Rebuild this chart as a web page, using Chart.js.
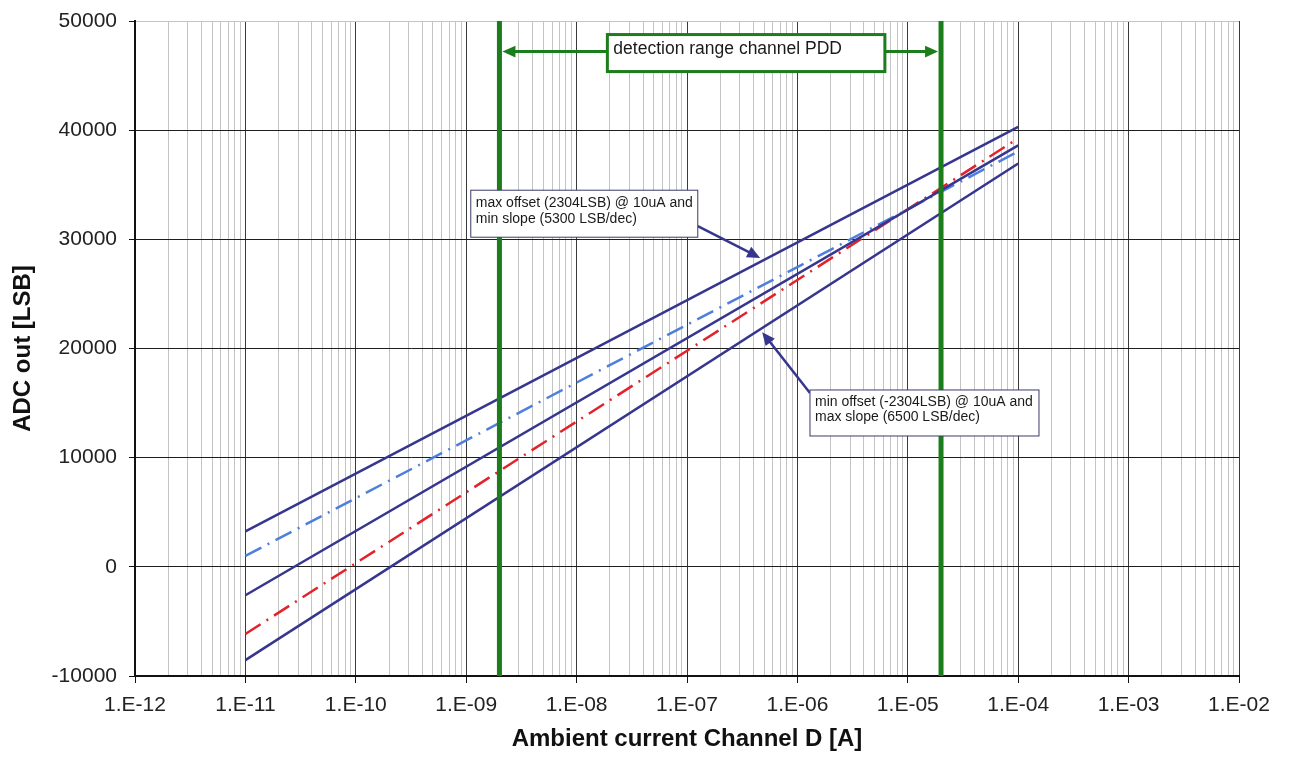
<!DOCTYPE html>
<html>
<head>
<meta charset="utf-8">
<script src="https://cdn.jsdelivr.net/npm/chart.js@4.4.1/dist/chart.umd.min.js"></script>
<style>
    html, body { margin: 0; padding: 0; background: #fff; }
    #wrap { width: 1289px; height: 758px; }
</style>
</head>
<body>
<div id="wrap"><canvas id="adc-chart"></canvas></div>
<script>
// ============================================
// DATA
// ============================================
// current range of the characteristic lines [A]
const currentRange = [1e-11, 1e-4];
// detection range channel PDD [A]
const detectionLimits = [2e-9, 2e-5];

// ADC output [LSB] at both ends of the current range
const maxOffsetMinSlope = [3250, 40300];
const nominalLine = [-2600, 38600];
const minOffsetMaxSlope = [-8550, 36950];
const nominalMaxSlope = [-6150, 39250];
const nominalMinSlope = [1000, 38050];

// axes
const xDecades = [1e-12, 1e-11, 1e-10, 1e-9, 1e-8, 1e-7, 1e-6, 1e-5, 1e-4, 1e-3, 1e-2];
const xTickLabels = ['1.E-12', '1.E-11', '1.E-10', '1.E-09', '1.E-08', '1.E-07',
    '1.E-06', '1.E-05', '1.E-04', '1.E-03', '1.E-02'];
const yTicks = [-10000, 0, 10000, 20000, 30000, 40000, 50000];

const colors = {
    navy: '#36368f',
    red: '#e3222a',
    blue: '#4f7fdc',
    green: '#1b7d1b',
    majorGrid: '#3a3a3a',
    minorGrid: '#c4c4c4',
};
const FONT = "'Liberation Sans', Arial, sans-serif";

function toPoints(xs, ys) {
    return xs.map((x, i) => ({ x: x, y: ys[i] }));
}

function isDecade(value) {
    return xDecades.indexOf(value) >= 0;
}

// ticks at 1..9 of every decade, for the log grid
function logGridTicks() {
    const ticks = [];
    xDecades.forEach((d, i) => {
        if (i === xDecades.length - 1) {
            ticks.push({ value: d });
            return;
        }
        for (let m = 1; m <= 9; m++) {
            ticks.push({ value: m === 1 ? d : Number((m * d).toPrecision(3)) });
        }
    });
    return ticks;
}

// ============================================
// CALLOUTS (text boxes and arrows)
// ============================================
function drawArrow(ctx, x1, y1, x2, y2, color, width, head) {
    const ang = Math.atan2(y2 - y1, x2 - x1);
    ctx.save();
    ctx.strokeStyle = color;
    ctx.fillStyle = color;
    ctx.lineWidth = width;
    ctx.beginPath();
    ctx.moveTo(x1, y1);
    ctx.lineTo(x2 - Math.cos(ang) * head * 0.8, y2 - Math.sin(ang) * head * 0.8);
    ctx.stroke();
    ctx.beginPath();
    ctx.moveTo(x2, y2);
    ctx.lineTo(x2 - head * Math.cos(ang) + head * 0.45 * Math.sin(ang),
        y2 - head * Math.sin(ang) - head * 0.45 * Math.cos(ang));
    ctx.lineTo(x2 - head * Math.cos(ang) - head * 0.45 * Math.sin(ang),
        y2 - head * Math.sin(ang) + head * 0.45 * Math.cos(ang));
    ctx.closePath();
    ctx.fill();
    ctx.restore();
}

function drawTextBox(ctx, left, top, w, h, lines, opts) {
    ctx.save();
    ctx.fillStyle = '#fff';
    ctx.fillRect(left, top, w, h);
    ctx.strokeStyle = opts.border;
    ctx.lineWidth = opts.borderWidth;
    ctx.strokeRect(left, top, w, h);
    ctx.fillStyle = '#1a1a1a';
    ctx.font = opts.font;
    ctx.textBaseline = 'middle';
    ctx.textAlign = 'left';
    lines.forEach((t, i) => {
        ctx.fillText(t, left + opts.padX, top + opts.firstLine + i * opts.lineGap);
    });
    ctx.restore();
}

const calloutPlugin = {
    id: 'callouts',
    afterDatasetsDraw(chart) {
        const ctx = chart.ctx;
        const x = chart.scales.x;
        const y = chart.scales.y;

        // detection range arrow + label
        const ay = y.getPixelForValue(47200);
        const gx1 = x.getPixelForValue(detectionLimits[0]);
        const gx2 = x.getPixelForValue(detectionLimits[1]);
        const mid = (gx1 + gx2) / 2;
        drawArrow(ctx, mid, ay, gx1 + 3, ay, colors.green, 3, 13);
        drawArrow(ctx, mid, ay, gx2 - 3, ay, colors.green, 3, 13);
        const hl = x.getPixelForValue(1.9e-8);
        const hr = x.getPixelForValue(6.2e-6);
        drawTextBox(ctx, hl, ay - 17, hr - hl, 37, ['detection range channel PDD'], {
            border: colors.green, borderWidth: 3, font: '17.5px ' + FONT,
            padX: 6, firstLine: 15, lineGap: 0,
        });

        // upper callout
        const b1l = x.getPixelForValue(1.1e-9);
        const b1t = y.getPixelForValue(34500);
        drawArrow(ctx, b1l + 227, b1t + 36, x.getPixelForValue(4.6e-7), y.getPixelForValue(28300),
            colors.navy, 2.5, 13);
        drawTextBox(ctx, b1l, b1t, 227, 47,
            ['max offset (2304LSB) @ 10uA and', 'min slope (5300 LSB/dec)'], {
                border: '#3a3a6a', borderWidth: 1, font: '14px ' + FONT,
                padX: 5, firstLine: 13, lineGap: 15.5,
            });

        // lower callout
        const b2l = x.getPixelForValue(1.3e-6);
        const b2t = y.getPixelForValue(16200);
        drawArrow(ctx, b2l, b2t + 3, x.getPixelForValue(4.8e-7), y.getPixelForValue(21500),
            colors.navy, 2.5, 13);
        drawTextBox(ctx, b2l, b2t, 229, 46,
            ['min offset (-2304LSB) @ 10uA and', 'max slope (6500 LSB/dec)'], {
                border: '#3a3a6a', borderWidth: 1, font: '14px ' + FONT,
                padX: 5, firstLine: 12, lineGap: 15.5,
            });
    },
};

// ============================================
// CHART
// ============================================
function solidLine(label, ys) {
    return {
        label: label,
        data: toPoints(currentRange, ys),
        borderColor: colors.navy,
        borderWidth: 2.5,
        pointRadius: 0,
    };
}

function dashDotLine(label, ys, color) {
    return {
        label: label,
        data: toPoints(currentRange, ys),
        borderColor: color,
        borderWidth: 2.5,
        borderDash: [18, 7, 2, 7],
        pointRadius: 0,
    };
}

function limitLine(xv) {
    return {
        label: 'limit',
        data: [{ x: xv, y: yTicks[0] }, { x: xv, y: yTicks[yTicks.length - 1] }],
        borderColor: colors.green,
        borderWidth: 5,
        pointRadius: 0,
    };
}

function createAdcChart() {
    const el = document.getElementById('adc-chart');
    if (!el) return;

    new Chart(el, {
        type: 'line',
        data: {
            datasets: [
                limitLine(detectionLimits[0]),
                limitLine(detectionLimits[1]),
                solidLine('max offset, min slope', maxOffsetMinSlope),
                solidLine('nominal', nominalLine),
                solidLine('min offset, max slope', minOffsetMaxSlope),
                dashDotLine('nominal, min slope', nominalMinSlope, colors.blue),
                dashDotLine('nominal, max slope', nominalMaxSlope, colors.red),
            ],
        },
        options: {
            responsive: true,
            maintainAspectRatio: false,
            animation: false,
            layout: { padding: { left: 0, top: 21, right: 50, bottom: 0 } },
            plugins: {
                legend: { display: false },
                tooltip: { enabled: false },
            },
            scales: {
                x: {
                    type: 'logarithmic',
                    min: xDecades[0],
                    max: xDecades[xDecades.length - 1],
                    afterBuildTicks: (scale) => { scale.ticks = logGridTicks(); },
                    afterFit: (scale) => { scale.height = 82; },
                    border: { color: '#111', width: 2 },
                    grid: {
                        color: (c) => (c.tick && isDecade(c.tick.value) ? colors.majorGrid : colors.minorGrid),
                        tickColor: (c) => (c.tick && isDecade(c.tick.value) ? '#111' : 'rgba(0,0,0,0)'),
                        lineWidth: 1,
                        tickLength: 7,
                    },
                    ticks: {
                        autoSkip: false,
                        maxRotation: 0,
                        padding: 10,
                        color: '#222',
                        font: { family: FONT, size: 21 },
                        callback: (value) => {
                            const k = xDecades.indexOf(value);
                            return k >= 0 ? xTickLabels[k] : '';
                        },
                    },
                    title: {
                        display: true,
                        text: 'Ambient current Channel D [A]',
                        color: '#111',
                        font: { family: FONT, size: 24, weight: 'bold' },
                        padding: { top: 0, bottom: 4 },
                    },
                },
                y: {
                    min: yTicks[0],
                    max: yTicks[yTicks.length - 1],
                    afterBuildTicks: (scale) => { scale.ticks = yTicks.map((v) => ({ value: v })); },
                    afterFit: (scale) => {
                        scale.width = 135;
                        scale.paddingTop = 0;
                        scale.paddingBottom = 0;
                    },
                    border: { color: '#111', width: 2 },
                    grid: {
                        color: (c) => (c.tick && c.tick.value === yTicks[yTicks.length - 1] ? '#c4c4c4' : '#1e1e1e'),
                        tickColor: '#111',
                        lineWidth: 1,
                        tickLength: 6,
                    },
                    ticks: {
                        padding: 12,
                        color: '#222',
                        font: { family: FONT, size: 21 },
                        callback: (value) => String(value),
                    },
                    title: {
                        display: true,
                        text: 'ADC out [LSB]',
                        color: '#111',
                        font: { family: FONT, size: 24, weight: 'bold' },
                        padding: { top: 9, bottom: 0 },
                    },
                },
            },
        },
        plugins: [calloutPlugin],
    });
}

document.addEventListener('DOMContentLoaded', createAdcChart);
</script>
</body>
</html>
